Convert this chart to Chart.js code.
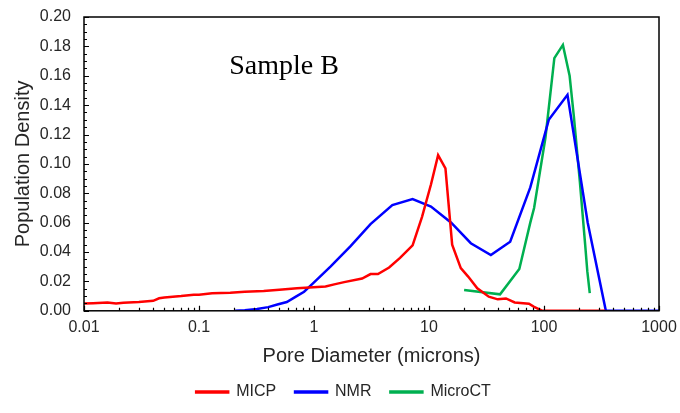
<!DOCTYPE html>
<html>
<head>
<meta charset="utf-8">
<script src="https://cdn.jsdelivr.net/npm/chart.js@4"></script>
<style>
  html, body { margin: 0; padding: 0; background: #fff; }
  #wrap { width: 680px; height: 413px; position: relative; }
</style>
</head>
<body>
<div id="wrap"><canvas id="chart"></canvas></div>
<script>
// pore diameter (microns) and population density for each method
const micpX = [0.01, 0.012, 0.016, 0.019, 0.022, 0.03, 0.04, 0.045, 0.05, 0.07, 0.09, 0.1, 0.13, 0.187, 0.25, 0.365, 0.5, 0.712, 0.99, 1.26, 1.5, 1.83, 2.62, 3.1, 3.6, 4.5, 5.6, 7.2, 8.7, 10.4, 12.0, 13.9, 15.9, 18.9, 21.9, 26.3, 33.1, 39.6, 46.7, 55.6, 74, 82, 97, 150, 250, 340];
const micpY = [0.005, 0.0052, 0.0057, 0.005, 0.0055, 0.006, 0.0068, 0.0085, 0.009, 0.010, 0.011, 0.011, 0.012, 0.0123, 0.013, 0.0135, 0.0143, 0.0153, 0.016, 0.0165, 0.018, 0.0195, 0.022, 0.025, 0.025, 0.0295, 0.036, 0.0445, 0.064, 0.086, 0.106, 0.097, 0.045, 0.029, 0.0233, 0.0153, 0.0096, 0.0078, 0.0084, 0.0057, 0.0048, 0.0027, 0, 0, 0, 0];

const nmrX = [0.206, 0.25, 0.32, 0.4, 0.48, 0.58, 0.69, 0.82, 0.99, 1.39, 2.07, 3.1, 4.8, 7.2, 10.4, 15.6, 23.1, 34.5, 50.8, 76, 110, 160, 240, 345, 500, 1000];
const nmrY = [0, 0.0003, 0.0012, 0.0025, 0.0043, 0.006, 0.0095, 0.013, 0.019, 0.030, 0.0438, 0.059, 0.072, 0.076, 0.071, 0.060, 0.046, 0.038, 0.047, 0.084, 0.130, 0.147, 0.060, 0, 0, 0];

const ctX = [20.2, 41.5, 61, 76, 82, 103, 123, 146, 167, 182, 205, 228, 238, 250];
const ctY = [0.0142, 0.0112, 0.0285, 0.060, 0.070, 0.118, 0.172, 0.181, 0.160, 0.132, 0.088, 0.045, 0.027, 0.012];

const xTickLabels = ["0.01", "0.1", "1", "10", "100", "1000"];
const yTickLabels = ["0.00", "0.02", "0.04", "0.06", "0.08", "0.10", "0.12", "0.14", "0.16", "0.18", "0.20"];

function pts(xs, ys) {
  return xs.map((x, i) => ({ x: x, y: ys[i] }));
}

const textColor = "#262626";
const axisFont = "Arial, 'Liberation Sans', sans-serif";

// inward ticks, box border and the "Sample B" note
const framePlugin = {
  id: "frame",
  afterDraw(chart) {
    const c = chart.ctx;
    const a = chart.chartArea;
    const xs = chart.scales.x;
    const ys = chart.scales.y;
    c.save();
    c.strokeStyle = "#000";
    c.lineWidth = 1.5;
    c.strokeRect(a.left, a.top, a.right - a.left, a.bottom - a.top);

    c.lineWidth = 1.2;
    c.beginPath();
    // x ticks: decades long, 2..9 short
    for (let e = -2; e <= 3; e++) {
      for (let m = 1; m <= 9; m++) {
        const v = m * Math.pow(10, e);
        if (v > 1000.0001) break;
        const px = Math.round(xs.getPixelForValue(v)) + 0.5;
        const len = m === 1 ? 5 : 3;
        c.moveTo(px, a.bottom);
        c.lineTo(px, a.bottom - len);
      }
    }
    // y ticks every 0.005, long at 0.02
    for (let i = 0; i <= 40; i++) {
      const v = i * 0.005;
      const py = Math.round(ys.getPixelForValue(v)) + 0.5;
      const len = i % 4 === 0 ? 5 : 3;
      c.moveTo(a.left, py);
      c.lineTo(a.left + len, py);
    }
    c.stroke();

    c.fillStyle = "#000";
    c.font = "28px 'Liberation Serif', 'Times New Roman', serif";
    c.textAlign = "center";
    c.textBaseline = "alphabetic";
    c.fillText("Sample B", 284, 74);
    c.restore();
  }
};

const ctx = document.getElementById("chart").getContext("2d");

const chart = new Chart(ctx, {
  type: "scatter",
  data: {
    datasets: [
      { label: "MICP", data: pts(micpX, micpY), borderColor: "#FF0000", backgroundColor: "#FF0000" },
      { label: "NMR", data: pts(nmrX, nmrY), borderColor: "#0000FF", backgroundColor: "#0000FF" },
      { label: "MicroCT", data: pts(ctX, ctY), borderColor: "#00B050", backgroundColor: "#00B050" }
    ]
  },
  options: {
    responsive: true,
    maintainAspectRatio: false,
    animation: false,
    showLine: true,
    elements: {
      point: { radius: 0, hoverRadius: 0 },
      line: { borderWidth: 2.5, tension: 0 }
    },
    layout: { padding: { top: 17, right: 21, left: 28, bottom: 3 } },
    scales: {
      x: {
        type: "logarithmic",
        min: 0.01,
        max: 1000,
        grid: { display: false, drawTicks: false },
        border: { display: false },
        afterFit: function(s) { s.paddingLeft = 0; s.paddingRight = 0; },
        ticks: {
          autoSkip: false,
          maxRotation: 0,
          color: textColor,
          font: { family: axisFont, size: 16 },
          padding: 7,
          callback: function(v) {
            const l = Math.log10(v);
            if (Math.abs(l - Math.round(l)) > 1e-6) return "";
            return xTickLabels[Math.round(l) + 2];
          }
        },
        title: {
          display: true,
          text: "Pore Diameter (microns)",
          color: textColor,
          font: { family: axisFont, size: 20 },
          padding: { top: 0, bottom: 6 }
        }
      },
      y: {
        min: 0,
        max: 0.2,
        grid: { display: false, drawTicks: false },
        border: { display: false },
        afterFit: function(s) { s.width = 56; s.paddingTop = 0; s.paddingBottom = 0; },
        ticks: {
          stepSize: 0.02,
          autoSkip: false,
          color: textColor,
          font: { family: axisFont, size: 16 },
          padding: 13,
          callback: function(v) {
            const i = Math.round(v / 0.02);
            return yTickLabels[i];
          }
        },
        title: {
          display: true,
          text: "Population Density",
          color: textColor,
          font: { family: axisFont, size: 20 },
          padding: { top: -17, bottom: 0 }
        }
      }
    },
    plugins: {
      legend: {
        position: "bottom",
        labels: {
          color: textColor,
          font: { family: axisFont, size: 16 },
          boxWidth: 32,
          boxHeight: 1,
          padding: 10,
          generateLabels: function(chart) {
            const items = Chart.defaults.plugins.legend.labels.generateLabels(chart);
            items.forEach((it, i) => {
              if (i < items.length - 1) it.text = it.text + "  ";
            });
            return items;
          }
        }
      },
      tooltip: { enabled: false }
    }
  },
  plugins: [framePlugin]
});
</script>
</body>
</html>
